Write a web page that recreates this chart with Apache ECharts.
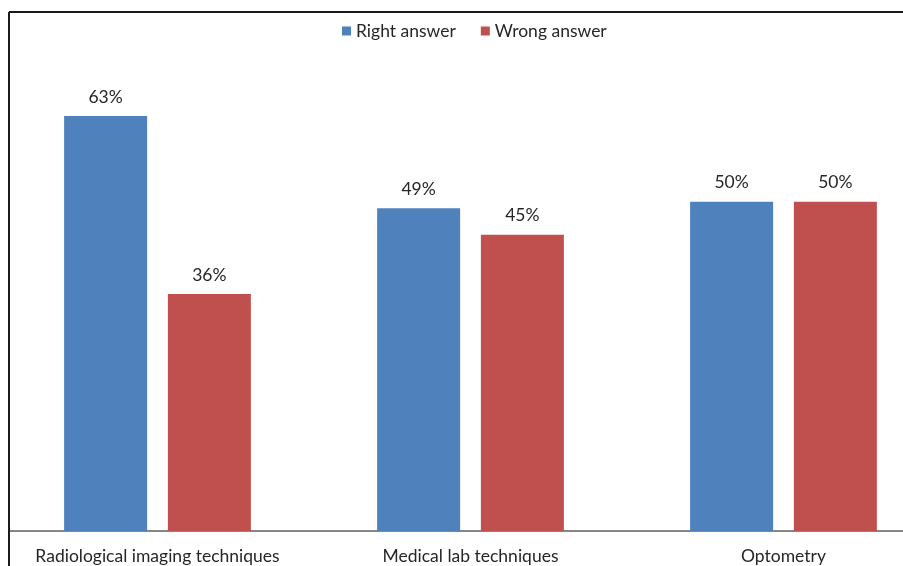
<!DOCTYPE html>
<html>
<head>
<meta charset="utf-8">
<script src="https://cdn.jsdelivr.net/npm/echarts@6/dist/echarts.min.js"></script>
<style>
  html, body { margin: 0; padding: 0; background: #fff; }
  #chart { width: 903px; height: 566px; }
</style>
</head>
<body>
<div id="chart"></div>
<script>
// Survey results by programme
const categories = ['Radiological imaging techniques', 'Medical lab techniques', 'Optometry'];
const rightAnswer = [63, 49, 50];
const wrongAnswer = [36, 45, 50];
const seriesNames = ['Right answer', 'Wrong answer'];

const FONT = 'Lato, "Open Sans", sans-serif';
const FONT_SIZE = 17.5;
const chart = echarts.init(document.getElementById('chart'));

const labelStyle = {
  show: true,
  position: 'top',
  distance: 10,
  color: '#262626',
  fontFamily: FONT,
  fontSize: FONT_SIZE,
  formatter: p => p.value + '%'
};

chart.setOption({
  animation: false,
  backgroundColor: '#ffffff',
  legend: {
    data: seriesNames,
    left: 337,
    top: 17,
    itemWidth: 9,
    itemHeight: 9,
    itemGap: 25,
    icon: 'rect',
    textStyle: { fontFamily: FONT, fontSize: FONT_SIZE, color: '#262626' }
  },
  grid: { left: 1, width: 939, top: 70, bottom: 35, containLabel: false, outerBoundsMode: 'none' },
  xAxis: {
    type: 'category',
    data: categories,
    axisLine: { show: true, lineStyle: { color: '#868686', width: 2 } },
    axisTick: { show: false },
    axisLabel: { interval: 0, margin: 16, color: '#262626', fontFamily: FONT, fontSize: FONT_SIZE }
  },
  yAxis: {
    type: 'value',
    min: 0,
    max: 70,
    show: false,
    splitLine: { show: false }
  },
  series: [
    {
      name: seriesNames[0],
      type: 'bar',
      data: rightAnswer,
      barWidth: 83,
      barGap: '25%',
      itemStyle: { color: '#4f81bd' },
      label: labelStyle
    },
    {
      name: seriesNames[1],
      type: 'bar',
      data: wrongAnswer,
      barWidth: 83,
      barGap: '25%',
      itemStyle: { color: '#c0504d' },
      label: labelStyle
    }
  ],
  graphic: [
    // chart frame edges
    { type: 'rect', z: 100, shape: { x: 0, y: 0, width: 8, height: 566 }, style: { fill: '#ffffff' } },
    { type: 'line', z: 101, shape: { x1: 9, y1: 12, x2: 903, y2: 12 }, style: { stroke: '#1a1a1a', lineWidth: 2 } },
    { type: 'line', z: 101, shape: { x1: 9, y1: 12, x2: 9, y2: 566 }, style: { stroke: '#1a1a1a', lineWidth: 2 } }
  ]
});
</script>
</body>
</html>
